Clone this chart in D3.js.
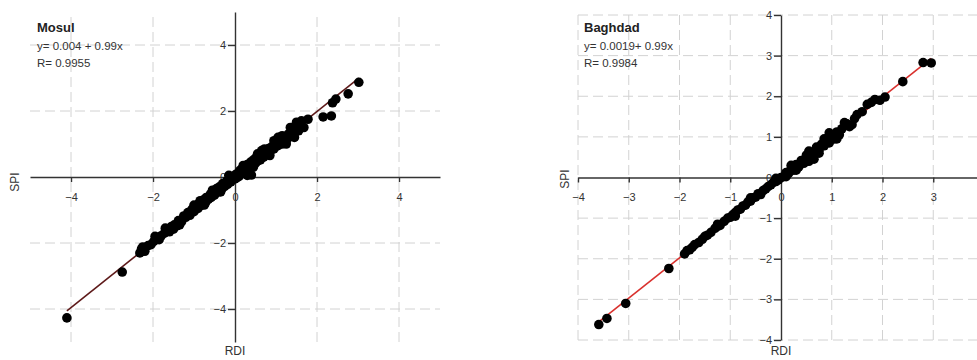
<!DOCTYPE html>
<html>
<head>
<meta charset="utf-8">
<script src="https://cdn.jsdelivr.net/npm/d3@7"></script>
<style>
  body { margin: 0; background: #fff; }
  svg { display: block; font-family: "Liberation Sans", Arial, sans-serif; }
  .grid line { stroke: #d2d2d2; stroke-width: 1; stroke-dasharray: 10,5; }
  .axis path, .axis line { stroke: #333; stroke-width: 1.4; }
  .axis text { fill: #333; font-size: 11px; }
</style>
</head>
<body>
<svg id="chart" width="977" height="360"></svg>
<script>
var width = 977;
var height = 360;

// Mosul: RDI vs SPI
var mosulRDI = [-4.1, -2.75, -2.32, -2.28, -2.2, -2.12, -2.05, -1.98, -1.9, -1.85, -1.8, -1.72,
  -1.65, -1.6, -1.55, -1.48, -1.42, -1.38, -1.3, -1.25, -1.2, -1.15, -1.1, -1.05, -1.0, -0.95,
  -0.9, -0.88, -0.82, -0.78, -0.72, -0.7, -0.65, -0.6, -0.58, -0.52, -0.5, -0.45, -0.4, -0.38,
  -0.32, -0.3, -0.25, -0.2, -0.18, -0.12, -0.1, -0.05, 0.0, 0.02, 0.05, 0.08, 0.1, 0.12, 0.15,
  0.18, 0.2, 0.25, 0.28, 0.3, 0.35, 0.38, 0.4, 0.42, 0.45, 0.5, 0.52, 0.55, 0.6, 0.62, 0.68,
  0.7, 0.75, 0.78, 0.82, 0.85, 0.9, 0.95, 1.0, 1.05, 1.1, 1.15, 1.2, 1.25, 1.3, 1.35, 1.4,
  1.45, 1.5, 1.5, 1.55, 1.55, 1.6, 1.62, 1.68, 1.78, 2.15, 2.35, 2.38, 2.46, 2.76, 3.02,
  -1.95, -1.7, -1.35, -1.0, -0.75, -0.55, -0.35, -0.15, 0.2, 0.45, 0.65, 0.85, 0.95, 1.15,
  1.25, 1.35, 1.45, 0.3, 0.55, 1.05, -2.25, -1.5, -0.85, 0.72];
var mosulSPI = [-4.27, -2.88, -2.3, -2.18, -2.25, -2.08, -2.05, -1.95, -1.84, -1.9, -1.78, -1.7,
  -1.62, -1.66, -1.5, -1.45, -1.48, -1.32, -1.35, -1.18, -1.22, -1.08, -1.16, -0.98, -1.05, -0.88,
  -0.95, -0.8, -0.86, -0.7, -0.78, -0.62, -0.68, -0.52, -0.62, -0.45, -0.55, -0.35, -0.45, -0.3,
  -0.36, -0.2, -0.28, -0.12, -0.22, -0.05, -0.15, 0.02, -0.06, 0.08, -0.02, 0.12, 0.02, 0.2, 0.1,
  0.25, 0.12, 0.32, 0.18, 0.38, 0.28, 0.45, 0.06, 0.36, 0.52, 0.42, 0.6, 0.48, 0.65, 0.52, 0.72,
  0.6, 0.8, 0.68, 0.86, 0.75, 0.92, 0.85, 1.02, 0.95, 1.08, 1.0, 1.2, 1.1, 1.3, 1.22, 1.45,
  1.32, 1.5, 1.66, 1.4, 1.62, 1.55, 1.7, 1.5, 1.75, 1.82, 1.85, 2.25, 2.36, 2.52, 2.87,
  -1.8, -1.55, -1.45, -0.85, -0.85, -0.4, -0.45, 0.05, 0.35, 0.3, 0.8, 0.65, 1.1, 1.25,
  1.0, 1.5, 1.2, 0.05, 0.7, 1.2, -2.12, -1.58, -0.72, 0.85];

// Baghdad: RDI vs SPI
var baghdadRDI = [-3.59, -3.43, -3.06, -2.21, -1.9, -1.85, -1.8, -1.75, -1.7, -1.62, -1.55, -1.5,
  -1.45, -1.38, -1.3, -1.25, -1.2, -1.12, -1.05, -1.0, -0.95, -0.9, -0.85, -0.8, -0.75, -0.7,
  -0.65, -0.6, -0.55, -0.5, -0.45, -0.4, -0.35, -0.3, -0.25, -0.2, -0.15, -0.1, -0.05, 0.0,
  0.05, 0.1, 0.15, 0.2, 0.25, 0.3, 0.35, 0.4, 0.45, 0.5, 0.55, 0.6, 0.65, 0.7, 0.75, 0.8, 0.85,
  0.9, 0.95, 1.0, 1.05, 1.1, 1.15, 1.2, 1.3, 1.35, 1.45, 1.5, 1.6, 1.7, 1.78, 1.85, 1.95, 2.05,
  2.4, 2.8, 2.96,
  0.3, 0.55, 0.75, 0.95, 1.1, 1.25, 1.4, -0.6, -0.9, -1.25, 0.2, 0.5, 0.65, 0.85, -0.1, 0.1];
var baghdadSPI = [-3.62, -3.47, -3.1, -2.24, -1.88, -1.8, -1.78, -1.72, -1.65, -1.6, -1.52, -1.45,
  -1.42, -1.35, -1.25, -1.2, -1.18, -1.08, -1.0, -0.98, -0.92, -0.86, -0.8, -0.78, -0.7, -0.68,
  -0.6, -0.58, -0.5, -0.48, -0.4, -0.42, -0.32, -0.28, -0.22, -0.18, -0.12, -0.1, -0.06, 0.0,
  0.02, 0.12, 0.1, 0.22, 0.18, 0.32, 0.26, 0.42, 0.35, 0.55, 0.4, 0.62, 0.55, 0.75, 0.68, 0.82,
  0.78, 0.95, 0.85, 1.05, 0.95, 1.12, 1.05, 1.2, 1.32, 1.25, 1.45, 1.55, 1.62, 1.8, 1.85, 1.92,
  1.9, 1.98, 2.36, 2.83, 2.82,
  0.18, 0.65, 0.6, 1.1, 0.95, 1.35, 1.3, -0.5, -0.95, -1.15, 0.3, 0.4, 0.45, 0.95, -0.02, 0.02];

var mosulTicksX = [-4, -2, 0, 2, 4];
var mosulTicksY = [-4, -2, 0, 2, 4];
var baghdadTicksX = [-4, -3, -2, -1, 0, 1, 2, 3];
var baghdadTicksY = [-4, -3, -2, -1, 0, 1, 2, 3, 4];

var svg = d3.select("#chart");

function drawPanel(opt) {
  var g = svg.append("g");
  var x = opt.x, y = opt.y;

  // dashed grid
  var grid = g.append("g").attr("class", "grid");
  grid.selectAll("line.v").data(opt.gridX).enter().append("line")
    .attr("x1", function(d) { return x(d); }).attr("x2", function(d) { return x(d); })
    .attr("y1", y.range()[0]).attr("y2", y.range()[1]);
  grid.selectAll("line.h").data(opt.gridY).enter().append("line")
    .attr("y1", function(d) { return y(d); }).attr("y2", function(d) { return y(d); })
    .attr("x1", x.range()[0]).attr("x2", x.range()[1]);

  // axes crossing at the origin
  g.append("g").attr("class", "axis")
    .attr("transform", "translate(0," + y(0) + ")")
    .call(d3.axisBottom(x).tickValues(opt.ticksX).tickSize(5).tickPadding(11).tickSizeOuter(0).tickFormat(d3.format("d")));
  g.append("g").attr("class", "axis")
    .attr("transform", "translate(" + x(0) + ",0)")
    .call(d3.axisLeft(y).tickValues(opt.ticksY).tickSize(7).tickPadding(2).tickSizeOuter(0).tickFormat(d3.format("d")));

  // regression line
  var lo = d3.min(opt.rdi), hi = d3.max(opt.rdi);
  g.append("line")
    .attr("x1", x(lo)).attr("y1", y(opt.a + opt.b * lo))
    .attr("x2", x(hi)).attr("y2", y(opt.a + opt.b * hi))
    .attr("stroke", opt.lineColor).attr("stroke-width", 1.6);

  // points
  g.selectAll("circle").data(d3.range(opt.rdi.length)).enter().append("circle")
    .attr("cx", function(i) { return x(opt.rdi[i]); })
    .attr("cy", function(i) { return y(opt.spi[i]); })
    .attr("r", 4.8)
    .attr("fill", "#000");

  // annotations
  g.append("text").attr("x", opt.textX).attr("y", 32)
    .attr("font-size", 13).attr("font-weight", "bold").attr("fill", "#222").text(opt.title);
  g.append("text").attr("x", opt.textX).attr("y", 50)
    .attr("font-size", 11.5).attr("fill", "#333").text(opt.eq);
  g.append("text").attr("x", opt.textX).attr("y", 67)
    .attr("font-size", 11.5).attr("fill", "#333").text(opt.r);

  g.append("text").attr("transform", "translate(" + opt.spiX + "," + opt.spiY + ") rotate(-90)")
    .attr("text-anchor", "middle").attr("font-size", 12).attr("fill", "#333").text("SPI");
  g.append("text").attr("x", x(0)).attr("y", 355)
    .attr("text-anchor", "middle").attr("font-size", 12).attr("fill", "#333").text("RDI");
}

drawPanel({
  x: d3.scaleLinear().domain([-5, 5]).range([30, 440]),
  y: d3.scaleLinear().domain([-5, 5]).range([342, 12]),
  gridX: [-4, -2, 2, 4], gridY: [-4, -2, 2, 4],
  ticksX: mosulTicksX, ticksY: mosulTicksY,
  rdi: mosulRDI, spi: mosulSPI,
  a: 0.004, b: 0.99, lineColor: "#5e1a1a",
  textX: 37, title: "Mosul", eq: "y= 0.004 + 0.99x", r: "R= 0.9955",
  spiX: 19, spiY: 182
});

drawPanel({
  x: d3.scaleLinear().domain([-4, 4]).range([578, 984]),
  y: d3.scaleLinear().domain([-4, 4]).range([340, 15]),
  gridX: [-4, -3, -2, -1, 1, 2, 3, 4], gridY: [-4, -3, -2, -1, 1, 2, 3, 4],
  ticksX: baghdadTicksX, ticksY: baghdadTicksY,
  rdi: baghdadRDI, spi: baghdadSPI,
  a: 0.0019, b: 0.99, lineColor: "#d9312e",
  textX: 584, title: "Baghdad", eq: "y= 0.0019+ 0.99x", r: "R= 0.9984",
  spiX: 569, spiY: 179
});
</script>
</body>
</html>
